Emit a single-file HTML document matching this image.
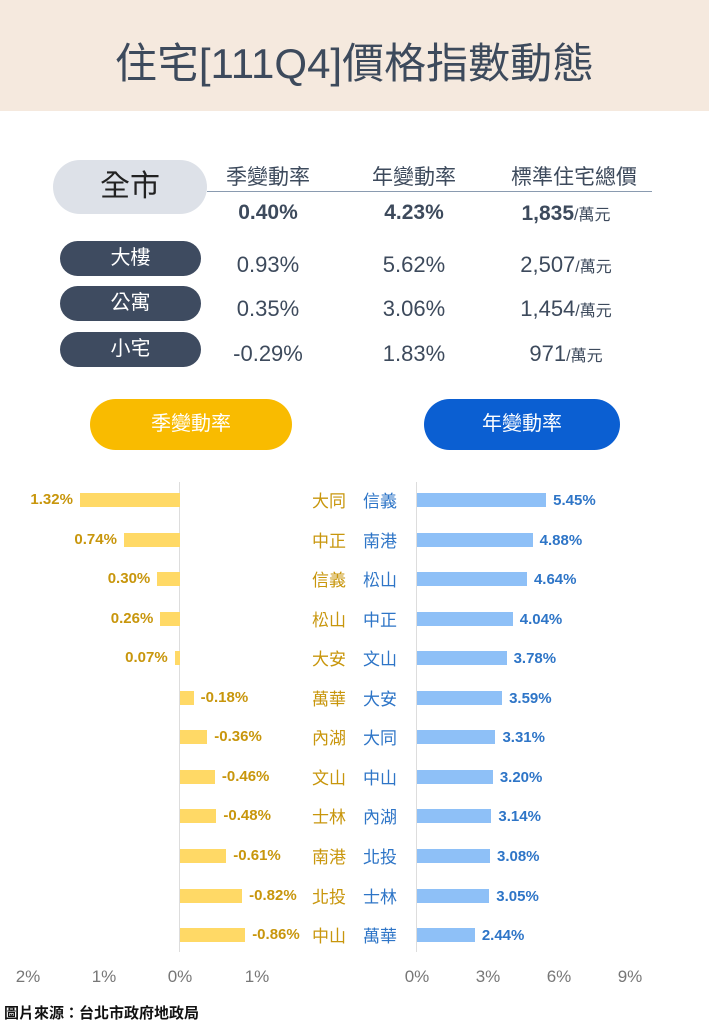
<!DOCTYPE html><html><head><meta charset="utf-8"><style>
body{margin:0;width:709px;height:1024px;position:relative;background:#fff;font-family:"Liberation Sans","Noto Sans CJK TC",sans-serif;overflow:hidden}
.a{position:absolute;white-space:nowrap}
.hdr{left:0;top:0;width:709px;height:111px;background:#f5e9de}
.t{left:0;width:709px;top:30px;text-align:center;font-size:42px;color:#3d4a5c}
.pill{position:absolute;border-radius:18px;background:#3e4b60;color:#fff;text-align:center;font-size:20px}
.c{position:absolute;text-align:center;color:#3d4a5c;transform:translateX(-50%);white-space:nowrap}
.bl{position:absolute;background:#ffd966;height:14px}
.bb{position:absolute;background:#8ec0f7;height:14px}
.lv{position:absolute;font-size:15px;font-weight:bold;color:#c8960c}
.rv{position:absolute;font-size:15px;font-weight:bold;color:#2e75c7}
.ld{position:absolute;font-size:17px;color:#c8960c;text-align:right;width:60px}
.rd{position:absolute;font-size:17px;color:#2e75c7}
.tk{position:absolute;font-size:17px;color:#777;transform:translateX(-50%)}
</style></head><body>
<div class="a hdr"></div>
<div class="a t">住宅[111Q4]價格指數動態</div>
<div class="pill" style="left:53px;top:160px;width:154px;height:54px;line-height:54px;border-radius:27px;background:#dde1e8;color:#222;font-size:30px">全市</div>
<div class="a" style="left:207px;top:191px;width:445px;height:1px;background:#8a9bb0"></div>
<div class="c" style="left:268px;top:161px;font-size:21px">季變動率</div>
<div class="c" style="left:414px;top:161px;font-size:21px">年變動率</div>
<div class="c" style="left:574px;top:161px;font-size:21px">標準住宅總價</div>
<div class="c" style="left:268px;top:201px;font-size:21px;font-weight:bold">0.40%</div>
<div class="c" style="left:414px;top:201px;font-size:21px;font-weight:bold">4.23%</div>
<div class="c" style="left:566px;top:201px;font-size:21px;font-weight:bold">1,835<span style="font-weight:normal;font-size:16px">/萬元</span></div>
<div class="pill" style="left:60px;top:241px;width:141px;height:35px;line-height:35px">大樓</div>
<div class="pill" style="left:60px;top:286px;width:141px;height:35px;line-height:35px">公寓</div>
<div class="pill" style="left:60px;top:332px;width:141px;height:35px;line-height:35px">小宅</div>
<div class="c" style="left:268px;top:252px;font-size:22px">0.93%</div>
<div class="c" style="left:414px;top:252px;font-size:22px">5.62%</div>
<div class="c" style="left:566px;top:252px;font-size:22px">2,507<span style="font-size:16px">/萬元</span></div>
<div class="c" style="left:268px;top:296px;font-size:22px">0.35%</div>
<div class="c" style="left:414px;top:296px;font-size:22px">3.06%</div>
<div class="c" style="left:566px;top:296px;font-size:22px">1,454<span style="font-size:16px">/萬元</span></div>
<div class="c" style="left:268px;top:341px;font-size:22px">-0.29%</div>
<div class="c" style="left:414px;top:341px;font-size:22px">1.83%</div>
<div class="c" style="left:566px;top:341px;font-size:22px">971<span style="font-size:16px">/萬元</span></div>
<div class="pill" style="left:90px;top:399px;width:202px;height:51px;line-height:51px;border-radius:26px;background:#f9bb00">季變動率</div>
<div class="pill" style="left:424px;top:399px;width:196px;height:51px;line-height:51px;border-radius:26px;background:#0b5fd2">年變動率</div>
<div class="a" style="left:179px;top:482px;width:1px;height:470px;background:#ddd"></div>
<div class="a" style="left:416px;top:482px;width:1px;height:470px;background:#ddd"></div>
<div id="rows"></div>
<div class="tk" style="left:28px;top:967px">2%</div>
<div class="tk" style="left:104px;top:967px">1%</div>
<div class="tk" style="left:180px;top:967px">0%</div>
<div class="tk" style="left:257px;top:967px">1%</div>
<div class="tk" style="left:417px;top:967px">0%</div>
<div class="tk" style="left:488px;top:967px">3%</div>
<div class="tk" style="left:559px;top:967px">6%</div>
<div class="tk" style="left:630px;top:967px">9%</div>
<div class="a" style="left:0;top:995px;width:235px;height:29px;background:linear-gradient(90deg,#fff 70%,rgba(255,255,255,0))"></div>
<div class="a" style="left:4px;top:1002px;font-size:15px;font-weight:bold;color:#111">圖片來源：台北市政府地政局</div>
<script>
var L=[[1.32,"大同"],[0.74,"中正"],[0.30,"信義"],[0.26,"松山"],[0.07,"大安"],[-0.18,"萬華"],[-0.36,"內湖"],[-0.46,"文山"],[-0.48,"士林"],[-0.61,"南港"],[-0.82,"北投"],[-0.86,"中山"]];
var R=[["信義",5.45],["南港",4.88],["松山",4.64],["中正",4.04],["文山",3.78],["大安",3.59],["大同",3.31],["中山",3.20],["內湖",3.14],["北投",3.08],["士林",3.05],["萬華",2.44]];
var h="";
for(var i=0;i<12;i++){var y=500+i*39.55;var v=L[i][0],w=Math.abs(v)*75.8;
if(v>0){h+='<div class="bl" style="left:'+(180-w)+'px;top:'+(y-7)+'px;width:'+w+'px"></div><div class="lv" style="right:'+(709-(180-w)+7)+'px;top:'+(y-9)+'px">'+v.toFixed(2)+'%</div>';}
else{h+='<div class="bl" style="left:180px;top:'+(y-7)+'px;width:'+w+'px"></div><div class="lv" style="left:'+(180+w+7)+'px;top:'+(y-9)+'px">'+v.toFixed(2)+'%</div>';}
h+='<div class="ld" style="left:286px;top:'+(y-13)+'px">'+L[i][1]+'</div>';
var r=R[i][1],rw=r*23.7;
h+='<div class="rd" style="left:363px;top:'+(y-13)+'px">'+R[i][0]+'</div><div class="bb" style="left:417px;top:'+(y-7)+'px;width:'+rw+'px"></div><div class="rv" style="left:'+(417+rw+7)+'px;top:'+(y-8)+'px">'+r.toFixed(2)+'%</div>';}
document.getElementById("rows").innerHTML=h;
</script>
</body></html>
